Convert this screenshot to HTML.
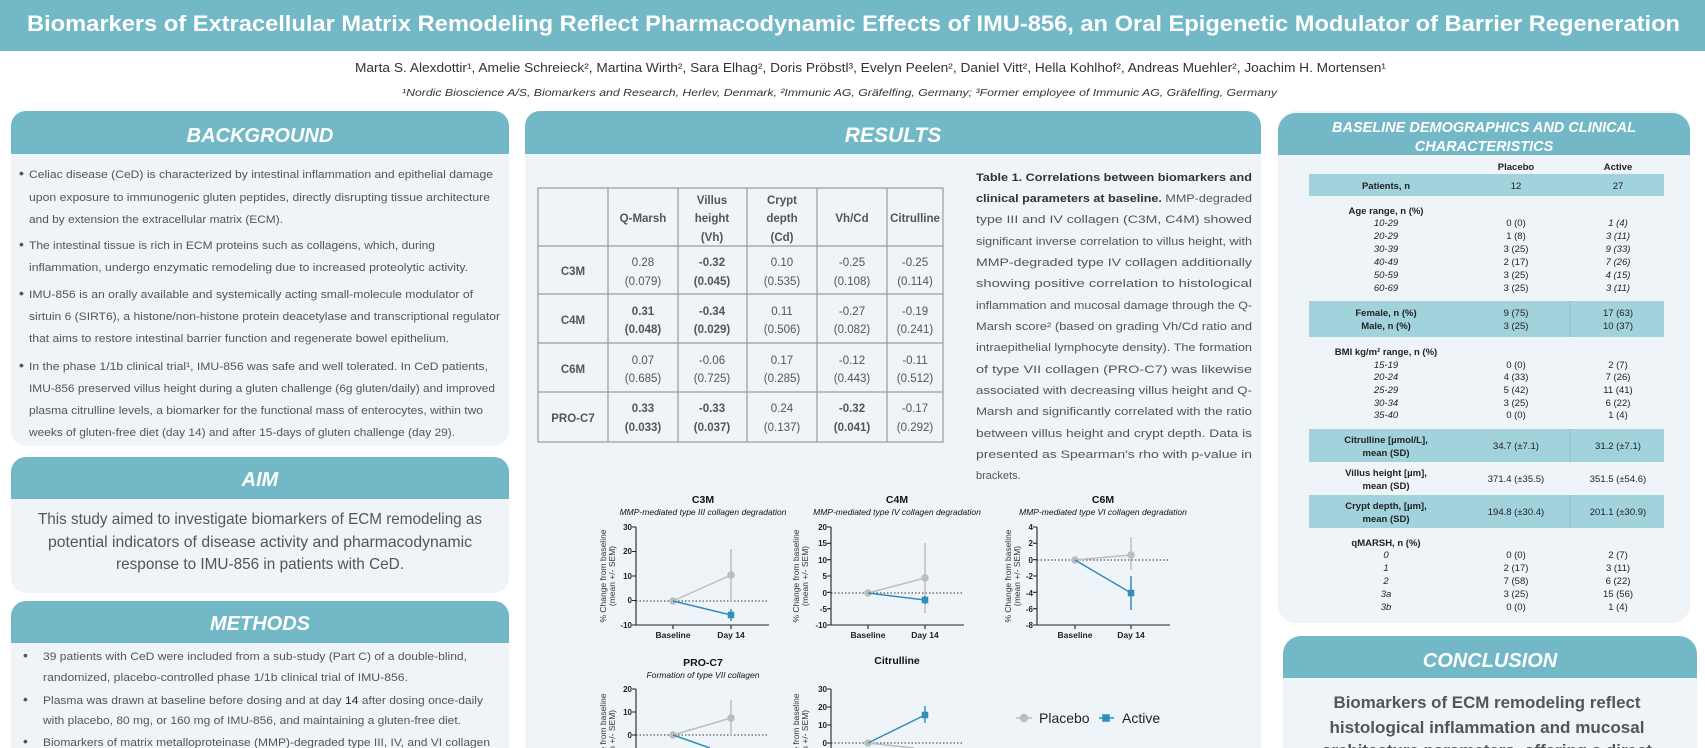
<!DOCTYPE html>
<html><head><meta charset="utf-8"><style>
html,body{margin:0;padding:0;background:#fff;width:1705px;height:748px;overflow:hidden;}
svg{display:block;}
text{font-family:"Liberation Sans",sans-serif;}
</style></head><body>
<svg width="1705" height="748" viewBox="0 0 1705 748" xmlns="http://www.w3.org/2000/svg" overflow="hidden">
<defs><clipPath id="cp"><rect x="0" y="0" width="1705" height="748"/></clipPath></defs>
<g clip-path="url(#cp)">
<rect width="1705" height="748" fill="#ffffff"/>
<rect x="0" y="0" width="1705" height="51" fill="#72b8c6"/>
<text x="27" y="31" font-size="22" font-weight="bold" fill="#fff" textLength="1653" lengthAdjust="spacingAndGlyphs">Biomarkers of Extracellular Matrix Remodeling Reflect Pharmacodynamic Effects of IMU-856, an Oral Epigenetic Modulator of Barrier Regeneration</text>
<text x="355" y="72" font-size="13" fill="#333" textLength="1031" lengthAdjust="spacingAndGlyphs">Marta S. Alexdottir¹, Amelie Schreieck², Martina Wirth², Sara Elhag², Doris Pröbstl³, Evelyn Peelen², Daniel Vitt², Hella Kohlhof², Andreas Muehler², Joachim H. Mortensen¹</text>
<text x="402" y="96" font-size="10.5" font-style="italic" fill="#333" textLength="875" lengthAdjust="spacingAndGlyphs">¹Nordic Bioscience A/S, Biomarkers and Research, Herlev, Denmark, ²Immunic AG, Gräfelfing, Germany; ³Former employee of Immunic AG, Gräfelfing, Germany</text>

<g fill="#eef4f8">
<rect x="11" y="111" width="498" height="335" rx="15"/>
<rect x="11" y="457" width="498" height="136" rx="15"/>
<path d="M11 748 V616 a15 15 0 0 1 15 -15 H494 a15 15 0 0 1 15 15 V748Z"/>
<path d="M525 748 V126 a15 15 0 0 1 15 -15 H1246 a15 15 0 0 1 15 15 V748Z"/>
<rect x="1278" y="111" width="412" height="512" rx="18"/>
<path d="M1283 748 V654 a18 18 0 0 1 18 -18 H1679 a18 18 0 0 1 18 18 V748Z"/>
</g>
<g fill="#72b8c6">
<path d="M11 154 V126 a15 15 0 0 1 15 -15 H494 a15 15 0 0 1 15 15 V154Z"/>
<path d="M11 499 V472 a15 15 0 0 1 15 -15 H494 a15 15 0 0 1 15 15 V499Z"/>
<path d="M11 643 V616 a15 15 0 0 1 15 -15 H494 a15 15 0 0 1 15 15 V643Z"/>
<path d="M525 154 V126 a15 15 0 0 1 15 -15 H1246 a15 15 0 0 1 15 15 V154Z"/>
<path d="M1278 155 V131 a18 18 0 0 1 18 -18 H1672 a18 18 0 0 1 18 18 V155Z"/>
<path d="M1283 678 V654 a18 18 0 0 1 18 -18 H1679 a18 18 0 0 1 18 18 V678Z"/>
</g>
<g fill="#fff" font-weight="bold" font-style="italic" text-anchor="middle">
<text x="260" y="142" font-size="20">BACKGROUND</text>
<text x="260" y="486" font-size="20">AIM</text>
<text x="260" y="630" font-size="20">METHODS</text>
<text x="893" y="142" font-size="21">RESULTS</text>
<text x="1484" y="132" font-size="14.5">BASELINE DEMOGRAPHICS AND CLINICAL</text>
<text x="1484" y="151" font-size="14.5">CHARACTERISTICS</text>
<text x="1490" y="667" font-size="20">CONCLUSION</text>
</g>

<g font-size="11" fill="#555">
<g font-size="14">
<text x="19" y="178">•</text><text x="19" y="249">•</text><text x="19" y="298">•</text><text x="19" y="370">•</text>
</g>
<text x="29" y="178" textLength="464" lengthAdjust="spacingAndGlyphs">Celiac disease (CeD) is characterized by intestinal inflammation and epithelial damage</text>
<text x="29" y="201" textLength="461" lengthAdjust="spacingAndGlyphs">upon exposure to immunogenic gluten peptides, directly disrupting tissue architecture</text>
<text x="29" y="223" textLength="254" lengthAdjust="spacingAndGlyphs">and by extension the extracellular matrix (ECM).</text>
<text x="29" y="249" textLength="406" lengthAdjust="spacingAndGlyphs">The intestinal tissue is rich in ECM proteins such as collagens, which, during</text>
<text x="29" y="271" textLength="439" lengthAdjust="spacingAndGlyphs">inflammation, undergo enzymatic remodeling due to increased proteolytic activity.</text>
<text x="29" y="298" textLength="444" lengthAdjust="spacingAndGlyphs">IMU-856 is an orally available and systemically acting small-molecule modulator of</text>
<text x="29" y="320" textLength="471" lengthAdjust="spacingAndGlyphs">sirtuin 6 (SIRT6), a histone/non-histone protein deacetylase and transcriptional regulator</text>
<text x="29" y="342" textLength="420" lengthAdjust="spacingAndGlyphs">that aims to restore intestinal barrier function and regenerate bowel epithelium.</text>
<text x="29" y="370" textLength="459" lengthAdjust="spacingAndGlyphs">In the phase 1/1b clinical trial¹, IMU-856 was safe and well tolerated. In CeD patients,</text>
<text x="29" y="392" textLength="466" lengthAdjust="spacingAndGlyphs">IMU-856 preserved villus height during a gluten challenge (6g gluten/daily) and improved</text>
<text x="29" y="414" textLength="454" lengthAdjust="spacingAndGlyphs">plasma citrulline levels, a biomarker for the functional mass of enterocytes, within two</text>
<text x="29" y="436" textLength="426" lengthAdjust="spacingAndGlyphs">weeks of gluten-free diet (day 14) and after 15-days of gluten challenge (day 29).</text>
</g>
<g font-size="16" fill="#555" text-anchor="middle">
<text x="260" y="524" textLength="444" lengthAdjust="spacingAndGlyphs">This study aimed to investigate biomarkers of ECM remodeling as</text>
<text x="260" y="547" textLength="424" lengthAdjust="spacingAndGlyphs">potential indicators of disease activity and pharmacodynamic</text>
<text x="260" y="569" textLength="288" lengthAdjust="spacingAndGlyphs">response to IMU-856 in patients with CeD.</text>
</g>
<g font-size="11" fill="#555">
<g font-size="14"><text x="23" y="660">•</text><text x="23" y="704">•</text><text x="23" y="746">•</text></g>
<text x="43" y="660" textLength="424" lengthAdjust="spacingAndGlyphs">39 patients with CeD were included from a sub-study (Part C) of a double-blind,</text>
<text x="43" y="681" textLength="365" lengthAdjust="spacingAndGlyphs">randomized, placebo-controlled phase 1/1b clinical trial of IMU-856.</text>
<text x="43" y="704" textLength="440" lengthAdjust="spacingAndGlyphs">Plasma was drawn at baseline before dosing and at day <tspan fill="#222">14</tspan> after dosing once-daily</text>
<text x="43" y="724" textLength="418" lengthAdjust="spacingAndGlyphs">with placebo, 80 mg, or 160 mg of IMU-856, and maintaining a gluten-free diet.</text>
<text x="43" y="746" textLength="447" lengthAdjust="spacingAndGlyphs">Biomarkers of matrix metalloproteinase (MMP)-degraded type III, IV, and VI collagen</text>
</g>

<g stroke="#9a9a9a" stroke-width="1.2" fill="none">
<rect x="538" y="188" width="405" height="254"/>
<line x1="538" y1="246" x2="943" y2="246"/>
<line x1="538" y1="294" x2="943" y2="294"/>
<line x1="538" y1="343" x2="943" y2="343"/>
<line x1="538" y1="392" x2="943" y2="392"/>
<line x1="608" y1="188" x2="608" y2="442"/>
<line x1="678" y1="188" x2="678" y2="442"/>
<line x1="747" y1="188" x2="747" y2="442"/>
<line x1="817" y1="188" x2="817" y2="442"/>
<line x1="887" y1="188" x2="887" y2="442"/>
</g>
<g font-size="11.5" fill="#555" text-anchor="middle">
<g font-weight="bold">
<text x="643" y="222">Q-Marsh</text>
<text x="712" y="204">Villus</text><text x="712" y="222">height</text><text x="712" y="241">(Vh)</text>
<text x="782" y="204">Crypt</text><text x="782" y="222">depth</text><text x="782" y="241">(Cd)</text>
<text x="852" y="222">Vh/Cd</text>
<text x="915" y="222">Citrulline</text>
<text x="573" y="275">C3M</text><text x="573" y="324">C4M</text><text x="573" y="373">C6M</text><text x="573" y="422">PRO-C7</text>
</g>
<text x="643" y="266">0.28</text><text x="643" y="285">(0.079)</text>
<text x="712" y="266" font-weight="bold">-0.32</text><text x="712" y="285" font-weight="bold">(0.045)</text>
<text x="782" y="266">0.10</text><text x="782" y="285">(0.535)</text>
<text x="852" y="266">-0.25</text><text x="852" y="285">(0.108)</text>
<text x="915" y="266">-0.25</text><text x="915" y="285">(0.114)</text>
<text x="643" y="315" font-weight="bold">0.31</text><text x="643" y="333" font-weight="bold">(0.048)</text>
<text x="712" y="315" font-weight="bold">-0.34</text><text x="712" y="333" font-weight="bold">(0.029)</text>
<text x="782" y="315">0.11</text><text x="782" y="333">(0.506)</text>
<text x="852" y="315">-0.27</text><text x="852" y="333">(0.082)</text>
<text x="915" y="315">-0.19</text><text x="915" y="333">(0.241)</text>
<text x="643" y="364">0.07</text><text x="643" y="382">(0.685)</text>
<text x="712" y="364">-0.06</text><text x="712" y="382">(0.725)</text>
<text x="782" y="364">0.17</text><text x="782" y="382">(0.285)</text>
<text x="852" y="364">-0.12</text><text x="852" y="382">(0.443)</text>
<text x="915" y="364">-0.11</text><text x="915" y="382">(0.512)</text>
<text x="643" y="412" font-weight="bold">0.33</text><text x="643" y="431" font-weight="bold">(0.033)</text>
<text x="712" y="412" font-weight="bold">-0.33</text><text x="712" y="431" font-weight="bold">(0.037)</text>
<text x="782" y="412">0.24</text><text x="782" y="431">(0.137)</text>
<text x="852" y="412" font-weight="bold">-0.32</text><text x="852" y="431" font-weight="bold">(0.041)</text>
<text x="915" y="412">-0.17</text><text x="915" y="431">(0.292)</text>
</g>

<g font-size="11" fill="#555">
<text x="976" y="181" textLength="276" lengthAdjust="spacingAndGlyphs"><tspan font-weight="bold" fill="#333">Table 1. Correlations between biomarkers and</tspan></text>
<text x="976" y="202" textLength="276" lengthAdjust="spacingAndGlyphs"><tspan font-weight="bold" fill="#333">clinical parameters at baseline.</tspan> MMP-degraded</text>
<text x="976" y="223" textLength="276" lengthAdjust="spacingAndGlyphs">type III and IV collagen (C3M, C4M) showed</text>
<text x="976" y="245" textLength="276" lengthAdjust="spacingAndGlyphs">significant inverse correlation to villus height, with</text>
<text x="976" y="266" textLength="276" lengthAdjust="spacingAndGlyphs">MMP-degraded type IV collagen additionally</text>
<text x="976" y="287" textLength="276" lengthAdjust="spacingAndGlyphs">showing positive correlation to histological</text>
<text x="976" y="309" textLength="276" lengthAdjust="spacingAndGlyphs">inflammation and mucosal damage through the Q-</text>
<text x="976" y="330" textLength="276" lengthAdjust="spacingAndGlyphs">Marsh score² (based on grading Vh/Cd ratio and</text>
<text x="976" y="351" textLength="276" lengthAdjust="spacingAndGlyphs">intraepithelial lymphocyte density). The formation</text>
<text x="976" y="373" textLength="276" lengthAdjust="spacingAndGlyphs">of type VII collagen (PRO-C7) was likewise</text>
<text x="976" y="394" textLength="276" lengthAdjust="spacingAndGlyphs">associated with decreasing villus height and Q-</text>
<text x="976" y="415" textLength="276" lengthAdjust="spacingAndGlyphs">Marsh and significantly correlated with the ratio</text>
<text x="976" y="437" textLength="276" lengthAdjust="spacingAndGlyphs">between villus height and crypt depth. Data is</text>
<text x="976" y="458" textLength="276" lengthAdjust="spacingAndGlyphs">presented as Spearman's rho with p-value in</text>
<text x="976" y="479">brackets.</text>
</g>

<g font-size="8" font-weight="bold" fill="#222" text-anchor="end">
<text x="632" y="530">30</text><text x="632" y="554">20</text><text x="632" y="579">10</text><text x="632" y="603">0</text><text x="632" y="628">-10</text>
<text x="827" y="530">20</text><text x="827" y="546">15</text><text x="827" y="563">10</text><text x="827" y="579">5</text><text x="827" y="596">0</text><text x="827" y="612">-5</text><text x="827" y="628">-10</text>
<text x="1033" y="530">4</text><text x="1033" y="546">2</text><text x="1033" y="563">0</text><text x="1033" y="579">-2</text><text x="1033" y="596">-4</text><text x="1033" y="612">-6</text><text x="1033" y="628">-8</text>
<text x="632" y="692">20</text><text x="632" y="715">10</text><text x="632" y="738">0</text>
<text x="827" y="692">30</text><text x="827" y="710">20</text><text x="827" y="728">10</text><text x="827" y="746">0</text>
</g>
<g font-size="8.5" font-weight="bold" fill="#222" text-anchor="middle">
<text x="673" y="638">Baseline</text><text x="731" y="638">Day 14</text>
<text x="868" y="638">Baseline</text><text x="925" y="638">Day 14</text>
<text x="1075" y="638">Baseline</text><text x="1131" y="638">Day 14</text>
</g>
<g text-anchor="middle" fill="#111">
<text x="703" y="503" font-size="10.5" font-weight="bold">C3M</text>
<text x="703" y="515" font-size="8.5" font-style="italic">MMP-mediated type III collagen degradation</text>
<text x="897" y="503" font-size="10.5" font-weight="bold">C4M</text>
<text x="897" y="515" font-size="8.5" font-style="italic">MMP-mediated type IV collagen degradation</text>
<text x="1103" y="503" font-size="10.5" font-weight="bold">C6M</text>
<text x="1103" y="515" font-size="8.5" font-style="italic">MMP-mediated type VI collagen degradation</text>
<text x="703" y="666" font-size="10.5" font-weight="bold">PRO-C7</text>
<text x="703" y="678" font-size="8.5" font-style="italic">Formation of type VII collagen</text>
<text x="897" y="664" font-size="10.5" font-weight="bold">Citrulline</text>
</g>
<g font-size="8.5" fill="#333" text-anchor="middle">
<text transform="translate(606,576) rotate(-90)">% Change from baseline</text>
<text transform="translate(615,576) rotate(-90)">(mean +/- SEM)</text>
<text transform="translate(799,576) rotate(-90)">% Change from baseline</text>
<text transform="translate(808,576) rotate(-90)">(mean +/- SEM)</text>
<text transform="translate(1011,576) rotate(-90)">% Change from baseline</text>
<text transform="translate(1020,576) rotate(-90)">(mean +/- SEM)</text>
<text transform="translate(606,740) rotate(-90)">% Change from baseline</text>
<text transform="translate(615,740) rotate(-90)">(mean +/- SEM)</text>
<text transform="translate(799,740) rotate(-90)">% Change from baseline</text>
<text transform="translate(808,740) rotate(-90)">(mean +/- SEM)</text>
</g>
<g stroke="#222" stroke-width="1.1" fill="none">
<path d="M636 527 V625 H769 M632 527 H636 M632 551.5 H636 M632 576 H636 M632 600.5 H636 M632 625 H636 M673 625 V629 M731 625 V629"/>
<path d="M831 527 V625 H964 M827 527 H831 M827 543.3 H831 M827 559.7 H831 M827 576 H831 M827 592.3 H831 M827 608.7 H831 M827 625 H831 M868 625 V629 M925 625 V629"/>
<path d="M1037 527 V625 H1170 M1033 527 H1037 M1033 543.3 H1037 M1033 559.7 H1037 M1033 576 H1037 M1033 592.3 H1037 M1033 608.7 H1037 M1033 625 H1037 M1075 625 V629 M1131 625 V629"/>
<path d="M636 689 V748 M632 689 H636 M632 712 H636 M632 735 H636"/>
<path d="M831 689 V748 M827 689 H831 M827 707 H831 M827 725 H831 M827 743 H831"/>
</g>
<g stroke="#333" stroke-width="1" stroke-dasharray="1.5,2" fill="none">
<path d="M636 601 H769 M831 593 H964 M1037 560 H1170 M636 735 H769 M831 743 H964"/>
</g>
<g stroke="#bdbdbd" stroke-width="1.5" fill="#bdbdbd">
<path d="M673 601 L731 575 M731 549 V601" fill="none"/>
<path d="M868 593 L925 578 M925 543 V613" fill="none"/>
<path d="M1075 560 L1131 555 M1131 537 V570" fill="none"/>
<path d="M673 735 L731 718 M731 700 V735" fill="none"/>
<path d="M868 743 L914 748" fill="none"/>
<circle cx="673" cy="601" r="3"/><circle cx="731" cy="575" r="3"/>
<circle cx="868" cy="593" r="3"/><circle cx="925" cy="578" r="3"/>
<circle cx="1075" cy="560" r="3"/><circle cx="1131" cy="555" r="3"/>
<circle cx="673" cy="735" r="3"/><circle cx="731" cy="718" r="3"/>
<circle cx="868" cy="743" r="3"/>
<path d="M1016 718 H1032" fill="none"/><circle cx="1024" cy="718" r="3.5"/>
</g>
<g stroke="#2f8fb8" stroke-width="1.5" fill="#2f8fb8">
<path d="M673 601 L731 615 M731 609 V621" fill="none"/>
<path d="M868 593 L925 600 M925 596 V604" fill="none"/>
<path d="M1075 560 L1131 593 M1131 576 V610" fill="none"/>
<path d="M673 735 L710 748" fill="none"/>
<path d="M868 743 L925 715 M925 706 V723" fill="none"/>
<rect x="728.5" y="612.5" width="5" height="5"/>
<rect x="922.5" y="597.5" width="5" height="5"/>
<rect x="1128.5" y="590.5" width="5" height="5"/>
<rect x="922.5" y="712.5" width="5" height="5"/>
<path d="M1099 718 H1114" fill="none"/><rect x="1103" y="715" width="6" height="6"/>
</g>
<text x="1039" y="723" font-size="14" fill="#222">Placebo</text>
<text x="1122" y="723" font-size="14" fill="#222">Active</text>

<g fill="#a2d2dc">
<rect x="1309" y="174" width="355" height="22"/>
<rect x="1309" y="301" width="355" height="36"/>
<rect x="1309" y="429" width="355" height="33"/>
<rect x="1309" y="495" width="355" height="33"/>
</g>
<g stroke="#8cc3cf" stroke-width="1"><line x1="1570" y1="301" x2="1570" y2="337"/><line x1="1570" y1="429" x2="1570" y2="462"/><line x1="1570" y1="495" x2="1570" y2="528"/></g>
<g font-size="9.5" fill="#222" text-anchor="middle">
<g font-weight="bold">
<text x="1516" y="170">Placebo</text><text x="1618" y="170">Active</text>
<text x="1386" y="189">Patients, n</text>
<text x="1386" y="214">Age range, n (%)</text>
<text x="1386" y="316">Female, n (%)</text><text x="1386" y="329">Male, n (%)</text>
<text x="1386" y="355">BMI kg/m² range, n (%)</text>
<text x="1386" y="443">Citrulline [µmol/L],</text><text x="1386" y="456">mean (SD)</text>
<text x="1386" y="476">Villus height [µm],</text><text x="1386" y="489">mean (SD)</text>
<text x="1386" y="509">Crypt depth, [µm],</text><text x="1386" y="522">mean (SD)</text>
<text x="1386" y="546">qMARSH, n (%)</text>
</g>
<text x="1516" y="189">12</text><text x="1618" y="189">27</text>
<g font-style="italic"><text x="1386" y="226">10-29</text><text x="1386" y="239">20-29</text><text x="1386" y="252">30-39</text><text x="1386" y="265">40-49</text><text x="1386" y="278">50-59</text><text x="1386" y="291">60-69</text>
<text x="1618" y="226">1 (4)</text><text x="1618" y="239">3 (11)</text><text x="1618" y="252">9 (33)</text><text x="1618" y="265">7 (26)</text><text x="1618" y="278">4 (15)</text><text x="1618" y="291">3 (11)</text>
<text x="1386" y="368">15-19</text><text x="1386" y="380">20-24</text><text x="1386" y="393">25-29</text><text x="1386" y="406">30-34</text><text x="1386" y="418">35-40</text>
<text x="1386" y="558">0</text><text x="1386" y="571">1</text><text x="1386" y="584">2</text><text x="1386" y="597">3a</text><text x="1386" y="610">3b</text></g>
<text x="1516" y="226">0 (0)</text><text x="1516" y="239">1 (8)</text><text x="1516" y="252">3 (25)</text><text x="1516" y="265">2 (17)</text><text x="1516" y="278">3 (25)</text><text x="1516" y="291">3 (25)</text>
<text x="1516" y="316">9 (75)</text><text x="1516" y="329">3 (25)</text><text x="1618" y="316">17 (63)</text><text x="1618" y="329">10 (37)</text>
<text x="1516" y="368">0 (0)</text><text x="1516" y="380">4 (33)</text><text x="1516" y="393">5 (42)</text><text x="1516" y="406">3 (25)</text><text x="1516" y="418">0 (0)</text>
<text x="1618" y="368">2 (7)</text><text x="1618" y="380">7 (26)</text><text x="1618" y="393">11 (41)</text><text x="1618" y="406">6 (22)</text><text x="1618" y="418">1 (4)</text>
<text x="1516" y="449">34.7 (±7.1)</text><text x="1618" y="449">31.2 (±7.1)</text>
<text x="1516" y="482">371.4 (±35.5)</text><text x="1618" y="482">351.5 (±54.6)</text>
<text x="1516" y="515">194.8 (±30.4)</text><text x="1618" y="515">201.1 (±30.9)</text>
<text x="1516" y="558">0 (0)</text><text x="1516" y="571">2 (17)</text><text x="1516" y="584">7 (58)</text><text x="1516" y="597">3 (25)</text><text x="1516" y="610">0 (0)</text>
<text x="1618" y="558">2 (7)</text><text x="1618" y="571">3 (11)</text><text x="1618" y="584">6 (22)</text><text x="1618" y="597">15 (56)</text><text x="1618" y="610">1 (4)</text>
</g>
<g font-size="17" font-weight="bold" fill="#555" text-anchor="middle">
<text x="1487" y="708" textLength="307" lengthAdjust="spacingAndGlyphs">Biomarkers of ECM remodeling reflect</text>
<text x="1487" y="733" textLength="315" lengthAdjust="spacingAndGlyphs">histological inflammation and mucosal</text>
<text x="1487" y="756" textLength="330" lengthAdjust="spacingAndGlyphs">architecture parameters, offering a direct</text>
</g>
</g>
</svg>
</body></html>
